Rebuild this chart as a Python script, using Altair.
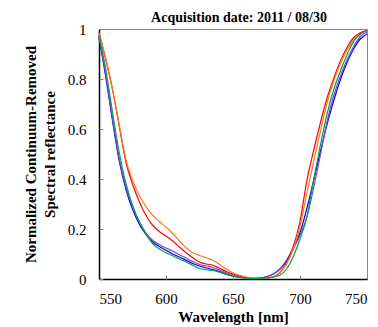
import altair as alt
import pandas as pd

wavelength = [550, 555, 560, 565, 570, 575, 580, 585, 590, 595, 600, 605, 610, 615, 620,
              625, 630, 635, 640, 645, 650, 655, 660, 665, 670, 675, 680, 685, 690, 695,
              700, 705, 710, 715, 720, 725, 730, 735, 740, 745, 750]

blue = [0.965, 0.81, 0.635, 0.475, 0.36, 0.28, 0.22, 0.178, 0.148, 0.13, 0.115, 0.10, 0.088, 0.075, 0.062,
        0.052, 0.044, 0.038, 0.03, 0.02, 0.012, 0.007, 0.004, 0.003, 0.004, 0.009, 0.02, 0.04, 0.075, 0.125,
        0.185, 0.28, 0.39, 0.505, 0.615, 0.71, 0.795, 0.865, 0.92, 0.96, 0.98]
purple = [0.97, 0.82, 0.645, 0.485, 0.37, 0.29, 0.23, 0.185, 0.155, 0.138, 0.124, 0.112, 0.097, 0.084, 0.07,
          0.058, 0.052, 0.046, 0.036, 0.025, 0.016, 0.009, 0.005, 0.003, 0.004, 0.009, 0.02, 0.038, 0.07, 0.12,
          0.175, 0.245, 0.36, 0.49, 0.625, 0.73, 0.81, 0.875, 0.93, 0.97, 0.988]
green = [0.975, 0.84, 0.67, 0.51, 0.385, 0.295, 0.23, 0.18, 0.142, 0.12, 0.105, 0.093, 0.08, 0.068, 0.055,
         0.042, 0.037, 0.034, 0.027, 0.018, 0.011, 0.006, 0.003, 0.002, 0.002, 0.004, 0.008, 0.015, 0.04, 0.09,
         0.16, 0.245, 0.39, 0.53, 0.655, 0.755, 0.83, 0.895, 0.95, 0.98, 0.993]
red = [0.985, 0.88, 0.76, 0.615, 0.47, 0.38, 0.31, 0.255, 0.215, 0.19, 0.172, 0.152, 0.128, 0.105, 0.085,
       0.068, 0.06, 0.055, 0.043, 0.03, 0.02, 0.012, 0.006, 0.003, 0.002, 0.003, 0.008, 0.025, 0.065, 0.13,
       0.23, 0.39, 0.51, 0.62, 0.72, 0.80, 0.87, 0.925, 0.965, 0.985, 0.995]
orange = [0.985, 0.88, 0.76, 0.62, 0.48, 0.395, 0.335, 0.29, 0.255, 0.23, 0.208, 0.182, 0.152, 0.125, 0.105,
          0.094, 0.085, 0.075, 0.058, 0.04, 0.025, 0.015, 0.008, 0.004, 0.002, 0.003, 0.01, 0.025, 0.06, 0.12,
          0.21, 0.34, 0.465, 0.585, 0.70, 0.79, 0.86, 0.915, 0.955, 0.98, 0.993]

series_names = ["blue", "purple", "red", "orange", "green"]
series_values = [blue, purple, red, orange, green]
series_colors = ["#0000f0", "#8447c8", "#ff0000", "#ee7d22", "#00a050"]

x_ticks = [550, 600, 650, 700, 750]
y_ticks = [0, 0.2, 0.4, 0.6, 0.8, 1]

rows = []
for i, (name, vals) in enumerate(zip(series_names, series_values)):
    for w, v in zip(wavelength, vals):
        rows.append({"wl": w, "v": v, "series": name, "k": i})
df = pd.DataFrame(rows)

FONT = "Liberation Serif"
W, H = 268, 250

xscale = alt.Scale(domain=[550, 750], nice=False, zero=False)
yscale = alt.Scale(domain=[0, 1], nice=False)

lines = alt.Chart(df).mark_line(strokeWidth=1.2, interpolate="monotone").encode(
    x=alt.X("wl:Q", scale=xscale, axis=alt.Axis(
        title="Wavelength [nm]", values=x_ticks, format="d", ticks=False, grid=False,
        domainColor="black", domainWidth=1.5, labelFont=FONT, labelFontSize=15,
        labelColor="black", labelPadding=12, titleFont=FONT, titleFontSize=15,
        titleFontWeight="bold", titleColor="black", titlePadding=3)),
    y=alt.Y("v:Q", scale=yscale, axis=alt.Axis(
        title=["Normalized Continuum-Removed", "Spectral reflectance"], values=y_ticks,
        format="~g", ticks=False, grid=False, domainColor="black", domainWidth=1.5,
        labelFont=FONT, labelFontSize=15, labelColor="black", labelPadding=13,
        titleFont=FONT, titleFontSize=15, titleFontWeight="bold", titleColor="black",
        titlePadding=10, titleLineHeight=19)),
    color=alt.Color("series:N", scale=alt.Scale(domain=series_names, range=series_colors), legend=None),
    detail="k:O",
)

ticks = alt.Chart(df).mark_line(opacity=0).encode(
    x=alt.X("wl:Q", scale=xscale, axis=alt.Axis(
        orient="top", offset=-H, labels=False, domain=False, title=None, values=x_ticks,
        tickSize=4, tickColor="#808080", tickWidth=1, grid=False)),
    y=alt.Y("v:Q", scale=yscale, axis=alt.Axis(
        orient="right", offset=-W, labels=False, domain=False, title=None, values=y_ticks,
        tickSize=4, tickColor="#808080", tickWidth=1, grid=False)),
    detail="k:O",
)

chart = alt.layer(lines, ticks).resolve_scale(x="independent", y="independent").properties(
    width=W, height=H,
    title=alt.TitleParams("Acquisition date: 2011 / 08/30", font=FONT, fontSize=14,
                          fontWeight="bold", color="black", offset=-3, dx=6),
    autosize=alt.AutoSizeParams(type="none"),
    padding={"left": 91, "top": 21, "right": 2, "bottom": 48},
).configure_view(stroke="#888888", strokeWidth=1)

chart.save("out.html", embed_options={"renderer": "svg", "actions": False})
